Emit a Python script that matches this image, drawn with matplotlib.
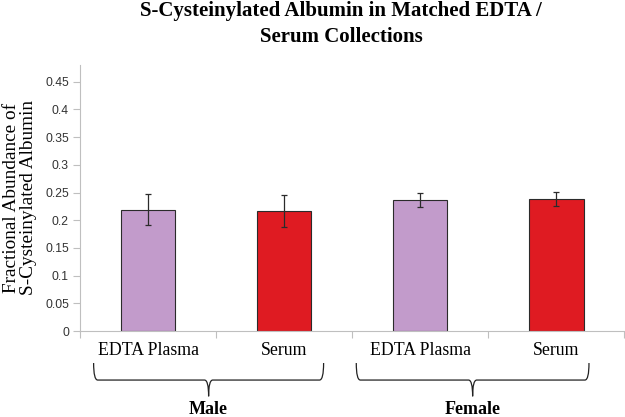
import numpy as np
import matplotlib
matplotlib.use("Agg")
import matplotlib.pyplot as plt
from matplotlib.path import Path
from matplotlib.patches import PathPatch
import matplotlib.transforms as mtransforms

# data
categories = ["EDTA Plasma", "Serum", "EDTA Plasma", "Serum"]
values = [0.219, 0.217, 0.237, 0.238]
errors = [0.028, 0.029, 0.0125, 0.0125]
colors = ["#C29BCB", "#DF1B22", "#C29BCB", "#DF1B22"]
groups = ["Male", "Female"]
yticks = [0, 0.05, 0.1, 0.15, 0.2, 0.25, 0.3, 0.35, 0.4, 0.45]

serif = "Liberation Serif"

fig = plt.figure(figsize=(6.25, 4.17), dpi=100)
ax = fig.add_axes([0.128, 0.206, 0.871, 0.638])

x = np.arange(len(values))
ax.bar(x, values, width=0.40, color=colors, edgecolor="#2b2b2b", linewidth=0.8,
       yerr=errors, error_kw=dict(ecolor="#2b2b2b", elinewidth=0.9, capsize=2.5, capthick=0.9))

ax.set_xlim(-0.5, 3.5)
ax.set_ylim(0, 0.48)
ax.set_yticks(yticks)
ax.set_yticklabels([f"{v:g}" for v in yticks], fontsize=8.7, family="Liberation Sans", color="#333333")
ax.tick_params(axis="y", direction="out", length=5, color="#BFBFBF", pad=3)

# tick marks at category boundaries, labels at centres
ax.set_xticks(np.arange(-0.5, 4, 1.0))
ax.set_xticklabels([])
ax.set_xticks(x, minor=True)
ax.set_xticklabels(categories, minor=True, fontsize=12.8, family=serif)
ax.tick_params(axis="x", which="major", direction="out", length=5, color="#BFBFBF")
ax.tick_params(axis="x", which="minor", length=0, pad=8)

for s in ["top", "right"]:
    ax.spines[s].set_visible(False)
ax.spines["left"].set_color("#BFBFBF")
ax.spines["bottom"].set_color("#BFBFBF")

fig.text(0.032, 0.526, "Fractional Abundance of\nS-Cysteinylated Albumin", fontsize=13.9,
         family=serif, rotation=90, ha="center", va="center", linespacing=1.0)

fig.text(0.546, 0.997, "S-Cysteinylated Albumin in Matched EDTA /\nSerum Collections",
         ha="center", va="top", fontsize=15, fontweight="bold", family=serif,
         linespacing=1.38)

# braces under the groups
trans = mtransforms.blended_transform_factory(ax.transData, ax.transAxes)
brace_spans = [(-0.40, 1.29), (1.53, 3.24)]
yt, yb, ytip = -0.12, -0.184, -0.245
for (x0, x1), name in zip(brace_spans, groups):
    xm = (x0 + x1) / 2
    dx = 0.03
    verts = [(x0, yt), (x0, yb), (x0 + dx, yb),
             (xm - dx, yb), (xm, yb), (xm, ytip),
             (xm, yb), (xm + dx, yb),
             (x1 - dx, yb), (x1, yb), (x1, yt)]
    codes = [Path.MOVETO, Path.CURVE3, Path.CURVE3,
             Path.LINETO, Path.CURVE3, Path.CURVE3,
             Path.CURVE3, Path.CURVE3,
             Path.LINETO, Path.CURVE3, Path.CURVE3]
    ax.add_patch(PathPatch(Path(verts, codes), transform=trans, fill=False,
                           edgecolor="#222222", linewidth=0.9, clip_on=False))
    ax.text(xm, -0.312, name, transform=trans, ha="center", va="baseline",
            fontsize=13, fontweight="bold", family=serif)

fig.savefig("out.png", dpi=100)
